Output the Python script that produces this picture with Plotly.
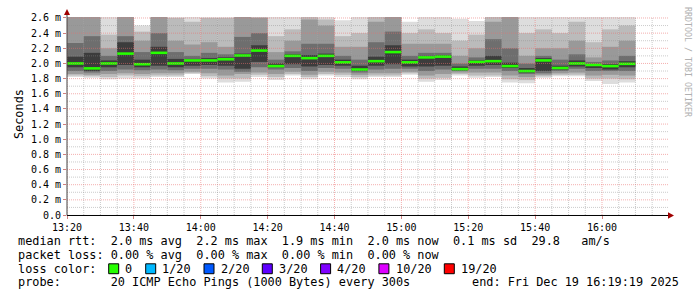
import plotly.graph_objects as go
import pandas as pd

# ---------------- data ----------------
col_start = pd.date_range("2025-12-19 13:20", periods=34, freq="5min")

median = [2.00, 1.935, 2.00, 2.13, 1.99, 2.14, 2.00, 2.04, 2.04, 2.055, 2.105, 2.17,
          1.965, 2.10, 2.07, 2.10, 2.015, 1.92, 2.03, 2.15, 2.015, 2.08, 2.09, 1.925,
          2.02, 2.03, 1.965, 1.90, 2.04, 1.94, 2.00, 1.98, 1.965, 1.995]

# smoke bands (outer -> inner), ms
b1_lo = [1.82, 1.81, 1.79, 1.80, 1.80, 1.82, 1.82, 1.86, 1.80, 1.75, 1.76, 1.82, 1.78, 1.84, 1.79, 1.84, 1.82,
         1.79, 1.82, 1.82, 1.85, 1.76, 1.78, 1.84, 1.81, 1.82, 1.75, 1.74, 1.81, 1.83, 1.83, 1.77, 1.73, 1.75]
b1_hi = [3.00, 3.00, 2.70, 2.90, 2.50, 3.00, 2.70, 2.65, 2.70, 2.70, 3.00, 3.00, 2.70, 2.70, 3.00, 2.65, 2.57,
         2.70, 3.00, 3.00, 2.55, 2.65, 2.65, 2.59, 2.56, 3.00, 3.00, 2.70, 2.70, 2.70, 2.70, 2.70, 2.70, 2.70]
b2_lo = [1.84, 1.83, 1.82, 1.84, 1.83, 1.84, 1.84, 1.87, 1.83, 1.80, 1.80, 1.85, 1.82, 1.86, 1.82, 1.86, 1.85,
         1.82, 1.84, 1.84, 1.87, 1.80, 1.81, 1.86, 1.84, 1.84, 1.79, 1.78, 1.83, 1.85, 1.85, 1.80, 1.80, 1.79]
b2_hi = [2.90, 2.90, 2.38, 2.80, 2.42, 2.85, 2.60, 2.55, 2.60, 2.60, 2.85, 2.90, 2.36, 2.45, 2.80, 2.58, 2.36,
         2.40, 2.80, 2.90, 2.40, 2.45, 2.40, 2.30, 2.38, 2.85, 2.80, 2.40, 2.45, 2.40, 2.55, 2.28, 2.45, 2.50]
b3_lo = [1.86, 1.85, 1.86, 1.87, 1.86, 1.87, 1.87, 1.89, 1.87, 1.84, 1.86, 1.88, 1.86, 1.89, 1.85, 1.89, 1.88,
         1.85, 1.87, 1.87, 1.89, 1.84, 1.86, 1.88, 1.88, 1.88, 1.84, 1.82, 1.85, 1.87, 1.88, 1.84, 1.85, 1.84]
b3_hi = [2.70, 2.70, 2.20, 2.65, 2.30, 2.65, 2.30, 2.25, 2.28, 2.22, 2.70, 2.60, 2.15, 2.30, 2.58, 2.50, 2.22,
         2.22, 2.55, 2.75, 2.26, 2.26, 2.26, 2.10, 2.20, 2.55, 2.65, 2.10, 2.20, 2.20, 2.30, 2.08, 2.22, 2.30]
b4_lo = [1.90, 1.88, 1.90, 1.92, 1.91, 1.92, 1.91, 1.93, 1.93, 1.92, 1.89, 1.95, 1.92, 1.94, 1.90, 1.94, 1.93,
         1.88, 1.92, 1.93, 1.93, 1.90, 1.92, 1.90, 1.93, 1.93, 1.90, 1.86, 1.87, 1.90, 1.93, 1.90, 1.90, 1.90]
b4_hi = [2.27, 2.36, 2.10, 2.36, 2.15, 2.40, 2.15, 2.10, 2.14, 2.12, 2.35, 2.40, 2.05, 2.16, 2.26, 2.26, 2.10,
         2.05, 2.28, 2.42, 2.10, 2.14, 2.14, 2.00, 2.08, 2.32, 2.20, 2.00, 2.10, 2.05, 2.12, 2.02, 2.04, 2.10]
b5_lo = [1.95, 1.90, 1.95, 1.98, 1.95, 1.97, 1.95, 1.97, 1.98, 1.97, 1.93, 2.02, 1.95, 1.99, 1.96, 1.98, 1.97,
         1.90, 1.97, 1.99, 1.96, 1.96, 1.97, 1.91, 1.97, 1.98, 1.94, 1.88, 1.90, 1.92, 1.96, 1.94, 1.92, 1.95]
b5_hi = [2.09, 2.14, 2.04, 2.28, 2.05, 2.22, 2.06, 2.06, 2.07, 2.08, 2.13, 2.24, 2.00, 2.12, 2.11, 2.13, 2.05,
         1.97, 2.09, 2.24, 2.05, 2.10, 2.11, 1.96, 2.04, 2.10, 2.01, 1.94, 2.07, 1.97, 2.04, 1.99, 1.99, 2.03]

y_ticks = [0.0, 0.2, 0.4, 0.6, 0.8, 1.0, 1.2, 1.4, 1.6, 1.8, 2.0, 2.2, 2.4, 2.6]
y_tick_text = ["0.0", "0.2 m", "0.4 m", "0.6 m", "0.8 m", "1.0 m", "1.2 m", "1.4 m",
               "1.6 m", "1.8 m", "2.0 m", "2.2 m", "2.4 m", "2.6 m"]
x_ticks = ["2025-12-19 13:20", "2025-12-19 13:40", "2025-12-19 14:00", "2025-12-19 14:20",
           "2025-12-19 14:40", "2025-12-19 15:00", "2025-12-19 15:20", "2025-12-19 15:40",
           "2025-12-19 16:00"]

line_rtt = "median rtt:  2.0 ms avg  2.2 ms max  1.9 ms min  2.0 ms now  0.1 ms sd  29.8   am/s"
line_loss = "packet loss: 0.00 % avg  0.00 % max  0.00 % min  0.00 % now"
line_probe = "probe:       20 ICMP Echo Pings (1000 Bytes) every 300s"
line_end = "end: Fri Dec 19 16:19:19 2025"
loss_labels = ["0", "1/20", "2/20", "3/20", "4/20", "10/20", "19/20"]
loss_colors = ["#26ff00", "#00b8ff", "#0059ff", "#5e00ff", "#7e00ff", "#dd00ff", "#ff0000"]

# ---------------- geometry ----------------
W, H = 697, 297
L, R, T, B = 67, 668, 15, 215
Y_MAX = 2.613
X0 = pd.Timestamp("2025-12-19 13:20")
X1 = X0 + pd.Timedelta(minutes=(R - L) / 3.34375)
STEP_MS = 300000

def px(x):
    return (x - L) / (R - L)

def py(y):
    return (B - y) / (B - T)

MONO = "DejaVu Sans Mono"
mid = [t + pd.Timedelta(seconds=150) for t in col_start]

fig = go.Figure()
bands = [(b1_lo, b1_hi, "#dddddd"), (b2_lo, b2_hi, "#bbbbbb"), (b3_lo, b3_hi, "#999999"),
         (b4_lo, b4_hi, "#6e6e6e"), (b5_lo, b5_hi, "#3c3c3c")]
for lo, hi, c in bands:
    fig.add_trace(go.Bar(x=mid, base=lo, y=[h - l for l, h in zip(lo, hi)],
                         width=[STEP_MS] * len(mid), marker=dict(color=c, line=dict(width=0)),
                         hoverinfo="skip"))

th = 2.6 * Y_MAX / (B - T)
fig.add_trace(go.Bar(x=mid, base=[m - th / 2 for m in median], y=[th] * len(median),
                     width=[STEP_MS] * len(mid), marker=dict(color=loss_colors[0], line=dict(width=0)),
                     hoverinfo="skip"))

shapes = []
# grid on top of the smoke
t = X0
while t <= X1:
    major = (t.minute % 20 == 0)
    shapes.append(dict(type="line", xref="x", yref="paper", x0=t, x1=t, y0=0, y1=1, layer="above",
                       line=dict(color="rgba(235,110,110,0.55)" if major else "rgba(140,140,140,0.45)",
                                 width=1, dash="1px,1px")))
    t += pd.Timedelta(minutes=5)
for k in range(1, 27):
    v = k / 10
    major = (k % 2 == 0)
    shapes.append(dict(type="line", xref="paper", yref="y", x0=0, x1=1, y0=v, y1=v, layer="above",
                       line=dict(color="rgba(235,110,110,0.55)" if major else "rgba(140,140,140,0.45)",
                                 width=1, dash="1px,1px")))
# axes lines and arrows
shapes.append(dict(type="line", xref="paper", yref="paper", x0=px(67), x1=px(669), y0=py(215.5), y1=py(215.5),
                   line=dict(color="#000000", width=1), layer="above"))
shapes.append(dict(type="line", xref="paper", yref="paper", x0=px(67), x1=px(67), y0=py(215.5), y1=py(10),
                   line=dict(color="#444444", width=1), layer="above"))
shapes.append(dict(type="path", xref="paper", yref="paper", layer="above",
                   path=f"M {px(64)},{py(13)} L {px(67)},{py(7)} L {px(70)},{py(13)} Z",
                   fillcolor="#a00000", line=dict(width=0)))
shapes.append(dict(type="path", xref="paper", yref="paper", layer="above",
                   path=f"M {px(668)},{py(212.3)} L {px(674)},{py(215.5)} L {px(668)},{py(218.7)} Z",
                   fillcolor="#a00000", line=dict(width=0)))

ann = []
FS = 11.85
def text(x, y, s, size=FS, anchor="left", color="#000000", angle=0):
    ann.append(dict(x=px(x), y=py(y), xref="paper", yref="paper", text=s.replace(" ", "\u00a0"),
                    showarrow=False, xanchor=anchor, yanchor="middle", textangle=angle,
                    font=dict(family=MONO, size=size, color=color)))

text(16, 241.7, line_rtt)
text(16, 255.0, line_loss)
text(16, 269.3, "loss color:")
text(16, 282.7, line_probe)
text(681, 282.7, line_end, anchor="right")
text(10, 113, "Seconds", angle=-90)
text(688.5, 60, "RRDTOOL / TOBI OETIKER", size=8.3, color="#b0b0b0", anchor="center", angle=90)

bx = 108.7
for lab, col in zip(loss_labels, loss_colors):
    shapes.append(dict(type="rect", xref="paper", yref="paper", x0=px(bx), x1=px(bx + 10),
                       y0=py(274.3), y1=py(264.3), fillcolor=col, line=dict(color="#000000", width=1)))
    text(bx + 14.6, 269.3, lab)
    bx = bx + 14.6 + len(lab) * 7.1 + 15.3

fig.update_layout(
    width=W, height=H, margin=dict(l=L, r=W - R, t=T, b=H - B),
    paper_bgcolor="white", plot_bgcolor="white", barmode="overlay", showlegend=False,
    hovermode=False, shapes=shapes, annotations=ann,
    xaxis=dict(type="date", range=[X0, X1], showgrid=False, zeroline=False, showline=False,
               tickvals=x_ticks, tickformat="%H:%M", ticks="outside", ticklen=3, tickcolor="#d08080",
               tickfont=dict(family=MONO, size=10, color="#000000"), fixedrange=True),
    yaxis=dict(range=[0, Y_MAX], showgrid=False, zeroline=False, showline=False,
               tickvals=y_ticks, ticktext=y_tick_text, ticks="outside", ticklen=3, tickcolor="#d08080",
               tickfont=dict(family=MONO, size=10, color="#000000"), fixedrange=True),
)
fig.write_html("out.html")
